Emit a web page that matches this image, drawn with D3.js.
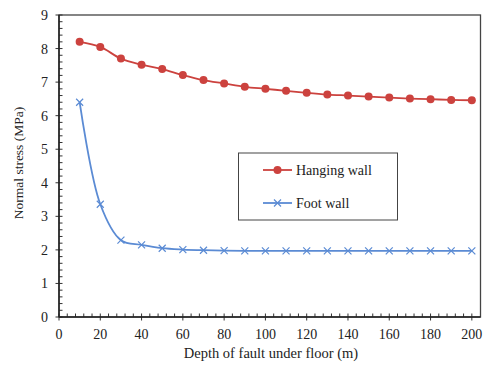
<!DOCTYPE html>
<html><head><meta charset="utf-8">
<script src="https://cdn.jsdelivr.net/npm/d3@7"></script>
<style>body{margin:0;background:#fff}svg{display:block}</style>
</head><body>
<svg id="c" width="483" height="366"></svg>
<script>
const depths = [10,20,30,40,50,60,70,80,90,100,110,120,130,140,150,160,170,180,190,200];
const hangingWall = [8.20,8.05,7.70,7.52,7.39,7.21,7.06,6.96,6.86,6.80,6.74,6.68,6.63,6.60,6.57,6.54,6.51,6.49,6.47,6.46];
const footWall = [6.40,3.36,2.29,2.15,2.05,2.01,1.99,1.98,1.97,1.97,1.97,1.97,1.97,1.97,1.97,1.97,1.97,1.97,1.97,1.97];
const xTicks = [0,20,40,60,80,100,120,140,160,180,200];
const yTicks = [0,1,2,3,4,5,6,7,8,9];
const seriesNames = ["Hanging wall","Foot wall"];

const svg = d3.select("#c");
const L = 59, T = 15, B = 317, R = 480.5;
const x = d3.scaleLinear().domain([0, 204.2]).range([L, R]);
const y = d3.scaleLinear().domain([0, 9]).range([B, T]);
const axisCol = "#333";
const font = "'Liberation Serif','Times New Roman',serif";
const red = "#cc423e", blue = "#5b8bd4";

// frame
svg.append("rect").attr("x", L).attr("y", T).attr("width", R - L).attr("height", B - T)
  .attr("fill", "none").attr("stroke", "#444").attr("stroke-width", 1.3);

// ticks
const g = svg.append("g").attr("stroke", axisCol).attr("stroke-width", 1);
d3.range(0, 201, 4).forEach(v => {
  const major = v % 20 === 0;
  g.append("line").attr("x1", x(v)).attr("x2", x(v))
    .attr("y1", major ? B + 3.5 : B).attr("y2", B - 3.5);
});
d3.range(0, 9.01, 0.2).forEach(v => {
  const major = Math.abs(v - Math.round(v)) < 1e-6;
  g.append("line").attr("y1", y(v)).attr("y2", y(v))
    .attr("x1", major ? L - 3.5 : L).attr("x2", L + 3.5);
});
svg.append("line").attr("x1", L).attr("x2", R).attr("y1", B).attr("y2", B).attr("stroke", "#222").attr("stroke-width", 1.5);
svg.append("line").attr("x1", L).attr("x2", L).attr("y1", T).attr("y2", B).attr("stroke", "#222").attr("stroke-width", 1.5);

// tick labels
svg.append("g").selectAll("text").data(xTicks).join("text")
  .attr("x", d => x(d)).attr("y", B + 22).attr("text-anchor", "middle")
  .attr("font-family", font).attr("font-size", 14).attr("fill", "#222").text(d => d);
svg.append("g").selectAll("text").data(yTicks).join("text")
  .attr("x", L - 11).attr("y", d => y(d) + 5).attr("text-anchor", "end")
  .attr("font-family", font).attr("font-size", 14).attr("fill", "#222").text(d => d);

// axis titles
svg.append("text").attr("x", 271).attr("y", 358).attr("text-anchor", "middle")
  .attr("font-family", font).attr("font-size", 14.5).attr("fill", "#222").text("Depth of fault under floor (m)");
svg.append("text").attr("transform", `translate(22.5,163) rotate(-90)`).attr("text-anchor", "middle")
  .attr("font-family", font).attr("font-size", 13.5).attr("fill", "#222").text("Normal stress (MPa)");

// lines
const hw = depths.map((d, i) => [d, hangingWall[i]]);
const fw = depths.map((d, i) => [d, footWall[i]]);
const line = d3.line().x(d => x(d[0])).y(d => y(d[1])).curve(d3.curveCatmullRom.alpha(0.5));
svg.append("path").attr("d", line(hw)).attr("fill", "none").attr("stroke", red).attr("stroke-width", 1.8);
svg.append("path").attr("d", line(fw)).attr("fill", "none").attr("stroke", blue).attr("stroke-width", 1.8);

svg.append("g").selectAll("circle").data(hw).join("circle")
  .attr("cx", d => x(d[0])).attr("cy", d => y(d[1])).attr("r", 4).attr("fill", red);
const xm = (gg, cx, cy, s) => {
  gg.append("path").attr("d", `M${cx - s},${cy - s}L${cx + s},${cy + s}M${cx - s},${cy + s}L${cx + s},${cy - s}`)
    .attr("stroke", blue).attr("stroke-width", 1.2).attr("fill", "none");
};
const mg = svg.append("g");
fw.forEach(d => xm(mg, x(d[0]), y(d[1]), 3.5));

// legend
const lg = svg.append("g");
lg.append("rect").attr("x", 238.5).attr("y", 153).attr("width", 159).attr("height", 67)
  .attr("fill", "#fff").attr("stroke", "#444").attr("stroke-width", 1);
lg.append("line").attr("x1", 263).attr("x2", 292).attr("y1", 170).attr("y2", 170).attr("stroke", red).attr("stroke-width", 1.8);
lg.append("circle").attr("cx", 277.5).attr("cy", 170).attr("r", 4).attr("fill", red);
lg.append("line").attr("x1", 263).attr("x2", 292).attr("y1", 203).attr("y2", 203).attr("stroke", blue).attr("stroke-width", 1.8);
xm(lg, 277.5, 203, 3.5);
lg.append("text").attr("x", 296).attr("y", 175).attr("font-family", font).attr("font-size", 14).attr("fill", "#222").text(seriesNames[0]);
lg.append("text").attr("x", 296).attr("y", 208).attr("font-family", font).attr("font-size", 14).attr("fill", "#222").text(seriesNames[1]);
</script>
</body></html>
